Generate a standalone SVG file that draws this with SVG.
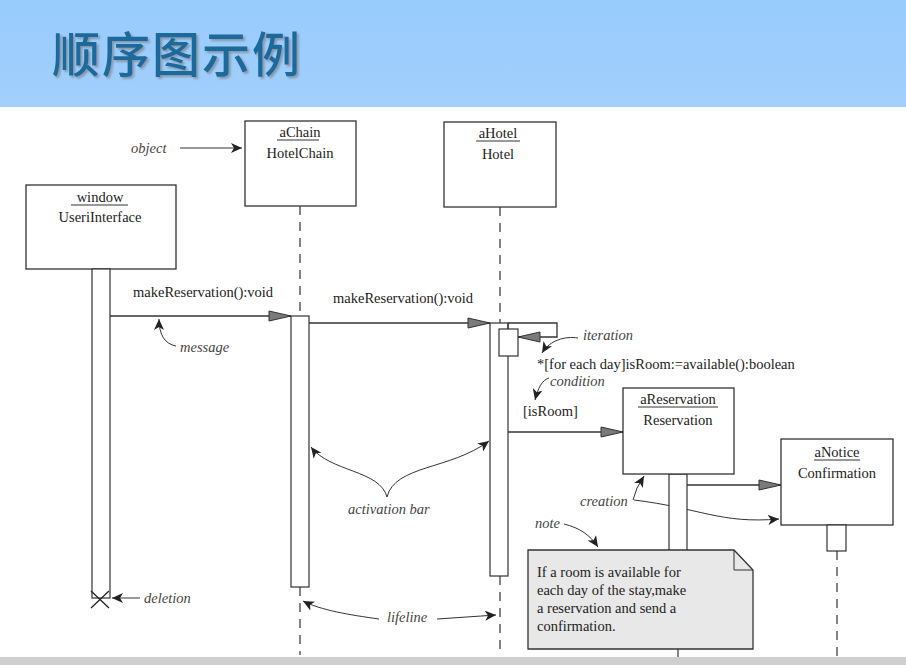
<svg xmlns="http://www.w3.org/2000/svg" width="906" height="665" viewBox="0 0 906 665">
<defs>
<linearGradient id="hdr" x1="0" y1="0" x2="0" y2="1">
<stop offset="0" stop-color="#98CBFE"/>
<stop offset="1" stop-color="#A2CFFB"/>
</linearGradient>
<filter id="sh" x="-5%" y="-10%" width="115%" height="130%">
<feDropShadow dx="2" dy="2" stdDeviation="0.8" flood-color="#7f8a96" flood-opacity="0.8"/>
</filter>
<marker id="msg" markerUnits="userSpaceOnUse" markerWidth="24" markerHeight="14" refX="23" refY="7" orient="auto">
<path d="M1,2 L23,7 L1,12 Z" fill="#7a7a7a" stroke="#333" stroke-width="1"/>
</marker>
<marker id="ann" markerUnits="userSpaceOnUse" markerWidth="12" markerHeight="10" refX="11" refY="5" orient="auto">
<path d="M0,0 L11,5 L0,10 L3,5 Z" fill="#222"/>
</marker>
</defs>
<style>
.box{fill:#fff;stroke:#333;stroke-width:1.3}
.bar{fill:#fff;stroke:#333;stroke-width:1.2}
.life{stroke:#333;stroke-width:1.2;stroke-dasharray:9 7;fill:none}
.m{stroke:#333;stroke-width:1.3;fill:none;marker-end:url(#msg)}
.a{stroke:#333;stroke-width:1;fill:none;marker-end:url(#ann)}
.t{font-family:'Liberation Serif','DejaVu Serif',serif;font-size:14.5px;fill:#222}
.c{text-anchor:middle}
.i{font-family:'Liberation Serif','DejaVu Serif',serif;font-size:14.5px;font-style:italic;fill:#444}
.u{stroke:#333;stroke-width:1}
</style>
<rect x="0" y="0" width="906" height="107" fill="url(#hdr)"/>
<text x="52" y="72" font-family="'Noto Sans CJK SC',sans-serif" font-size="48" font-weight="500" fill="#1B6A9B" letter-spacing="2" filter="url(#sh)">顺序图示例</text>
<rect x="0" y="657" width="906" height="8" fill="#cfcfcf"/>

<g id="connectors">
<line class="life" x1="300" y1="206" x2="300" y2="316"/>
<line class="life" x1="300" y1="587" x2="300" y2="655"/>
<line class="life" x1="500" y1="207" x2="500" y2="323"/>
<line class="life" x1="500" y1="576" x2="500" y2="655"/>
<line class="life" x1="678" y1="649" x2="678" y2="657"/>
<line class="life" x1="837" y1="551" x2="837" y2="657"/>
<line class="m" x1="110" y1="316" x2="291" y2="316"/>
<line class="m" x1="309" y1="323" x2="490" y2="323"/>
<path class="m" d="M508,323 L557,323 L557,337 L518,337"/>
<line class="m" x1="508" y1="432" x2="623" y2="432"/>
<line class="m" x1="687" y1="485" x2="781" y2="485"/>
<path class="a" d="M180,148 L242,148"/>
<path class="a" d="M176,346 C165,344 159,335 159,319"/>
<path class="a" d="M387,497 C380,470 330,472 311,447"/>
<path class="a" d="M387,497 C395,465 450,470 489,441"/>
<path class="a" d="M140,598 L112,598"/>
<path class="a" d="M379,619 C350,615 320,610 303,601"/>
<path class="a" d="M437,619 L496,615"/>
<path class="a" d="M578,338 C565,336 550,340 542,353"/>
<path class="a" d="M549,378 C542,380 538,388 535,400"/>
<path class="a" d="M633,500 L637,488 L644,476"/>
<path class="a" d="M634,500 C700,508 720,524 779,519"/>
<path class="a" d="M564,524 C580,528 590,535 598,547"/>
</g>

<g id="window">
<rect class="box" x="26" y="185" width="150" height="84"/>
<text class="t c" x="100" y="202">window</text>
<line class="u" x1="71" y1="205" x2="128" y2="205"/>
<text class="t c" x="100" y="222">UseriInterface</text>
<rect class="bar" x="92" y="269" width="18" height="329"/>
<path d="M91,591 L109,608 M109,591 L91,608" stroke="#222" stroke-width="1.3"/>
</g>

<g id="aChain">
<rect class="box" x="245" y="121" width="111" height="85"/>
<text class="t c" x="300" y="137">aChain</text>
<line class="u" x1="277" y1="140" x2="319" y2="140"/>
<text class="t c" x="300" y="158">HotelChain</text>
<rect class="bar" x="291" y="316" width="18" height="271"/>
</g>

<g id="aHotel">
<rect class="box" x="444" y="122" width="112" height="85"/>
<text class="t c" x="498" y="138">aHotel</text>
<line class="u" x1="476" y1="141" x2="520" y2="141"/>
<text class="t c" x="498" y="159">Hotel</text>
<rect class="bar" x="490" y="323" width="18" height="253"/>
<line x1="508" y1="323" x2="508" y2="329" stroke="#333" stroke-width="1.2"/>
<rect class="bar" x="499" y="329" width="19" height="27"/>
</g>

<g id="aReservation">
<rect class="bar" x="669" y="474" width="18" height="90"/>
<rect class="box" x="623" y="388" width="111" height="86"/>
<text class="t c" x="678" y="404">aReservation</text>
<line class="u" x1="638" y1="407" x2="718" y2="407"/>
<text class="t c" x="678" y="425">Reservation</text>
</g>

<g id="aNotice">
<rect class="box" x="781" y="439" width="112" height="86"/>
<text class="t c" x="837" y="457">aNotice</text>
<line class="u" x1="814" y1="460" x2="860" y2="460"/>
<text class="t c" x="837" y="478">Confirmation</text>
<rect class="bar" x="827" y="525" width="19" height="26"/>
</g>

<g id="note">
<path d="M528,550 L734,550 L753,570 L753,649 L528,649 Z" fill="#e8e8e8" stroke="#333" stroke-width="1.3"/>
<path d="M734,550 L734,570 L753,570" fill="none" stroke="#333" stroke-width="1"/>
<text class="t" x="537" y="577">If a room is available for</text>
<text class="t" x="537" y="595">each day of the stay,make</text>
<text class="t" x="537" y="613">a reservation and send a</text>
<text class="t" x="537" y="631">confirmation.</text>
</g>

<g id="labels">
<text class="t" x="133" y="297">makeReservation():void</text>
<text class="t" x="333" y="303">makeReservation():void</text>
<text class="t" x="537" y="369">*[for each day]isRoom:=available():boolean</text>
<text class="t" x="523" y="416">[isRoom]</text>
<text class="i" x="131" y="153">object</text>
<text class="i" x="180" y="352">message</text>
<text class="i" x="348" y="514">activation bar</text>
<text class="i" x="144" y="603">deletion</text>
<text class="i" x="387" y="622">lifeline</text>
<text class="i" x="583" y="340">iteration</text>
<text class="i" x="550" y="386">condition</text>
<text class="i" x="580" y="506">creation</text>
<text class="i" x="535" y="528">note</text>
</g>
</svg>
